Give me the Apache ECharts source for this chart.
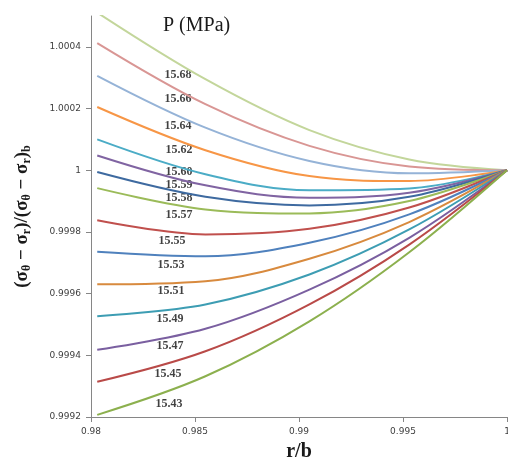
<!DOCTYPE html>
<html>
<head>
<meta charset="utf-8">
<script src="https://cdn.jsdelivr.net/npm/echarts@6/dist/echarts.min.js"></script>
<style>
  html, body { margin: 0; padding: 0; background: #fff; }
  #chart { width: 508px; height: 461px; }
</style>
</head>
<body>
<div id="chart"></div>
<script>
// r/b positions where the curves were read
var rb = [0.9803, 0.9855, 0.9905, 0.9953, 1];

// (σθ-σr)/(σθ-σr)b for each internal pressure P (MPa)
var p1568 = [1.000511, 1.000295, 1.000130, 1.000035, 1];
var p1566 = [1.000412, 1.000214, 1.000079, 1.000012, 1];
var p1564 = [1.000306, 1.000138, 1.000030, 0.999990, 1];
var p1562 = [1.000205, 1.000065, 0.999981, 0.999965, 1];
var p1560 = [1.000100, 0.999987, 0.999935, 0.999941, 1];
var p1559 = [1.000048, 0.999951, 0.999911, 0.999927, 1];
var p1558 = [0.999994, 0.999914, 0.999886, 0.999914, 1];
var p1557 = [0.999942, 0.999873, 0.999860, 0.999900, 1];
var p1555 = [0.999838, 0.999792, 0.999810, 0.999879, 1];
var p1553 = [0.999736, 0.999721, 0.999765, 0.999857, 1];
var p1551 = [0.999630, 0.999640, 0.999713, 0.999832, 1];
var p1549 = [0.999527, 0.999565, 0.999662, 0.999808, 1];
var p1547 = [0.999418, 0.999486, 0.999613, 0.999781, 1];
var p1545 = [0.999314, 0.999413, 0.999565, 0.999759, 1];
var p1543 = [0.999207, 0.999332, 0.999510, 0.999734, 1];

var pressures = ['15.68', '15.66', '15.64', '15.62', '15.60', '15.59', '15.58', '15.57',
                 '15.55', '15.53', '15.51', '15.49', '15.47', '15.45', '15.43'];
var curves = [p1568, p1566, p1564, p1562, p1560, p1559, p1558, p1557,
              p1555, p1553, p1551, p1549, p1547, p1545, p1543];
var colors = ['#c3d69b', '#d99694', '#95b3d7', '#f79646', '#4bacc6', '#8064a2', '#3e6aa0', '#9bbb59',
              '#c0504d', '#4f81bd', '#d88a3e', '#3d9db3', '#7a5fa0', '#b94a48', '#8cb04e'];

// where each pressure label sits (r/b, value)
var labelR = [0.98418, 0.98418, 0.98418, 0.98423, 0.98423, 0.98423, 0.98423, 0.98423,
              0.98389, 0.98385, 0.98385, 0.9838, 0.9838, 0.9837, 0.98375];
var labelV = [1.000308, 1.000230, 1.000143, 1.000065, 0.999993, 0.999951, 0.999909, 0.999854,
              0.999772, 0.999693, 0.999610, 0.999517, 0.999430, 0.999341, 0.999243];

var xTicks = [0.98, 0.985, 0.99, 0.995, 1];
var yTicks = [0.9992, 0.9994, 0.9996, 0.9998, 1, 1.0002, 1.0004];

var chart = echarts.init(document.getElementById('chart'));

var series = [];
for (var i = 0; i < curves.length; i++) {
  var pts = [];
  for (var j = 0; j < rb.length; j++) {
    pts.push([rb[j], curves[i][j]]);
  }
  series.push({
    name: pressures[i],
    type: 'line',
    data: pts,
    smooth: 0.35,
    showSymbol: false,
    clip: true,
    lineStyle: { width: 2, color: colors[i] },
    itemStyle: { color: colors[i] },
    silent: true
  });
}

var labelPts = [];
for (var k = 0; k < pressures.length; k++) {
  labelPts.push([labelR[k], labelV[k], pressures[k]]);
}
series.push({
  type: 'scatter',
  data: labelPts,
  symbolSize: 0,
  silent: true,
  label: {
    show: true,
    position: 'inside',
    formatter: function (p) { return p.data[2]; },
    fontFamily: 'Liberation Serif',
    fontWeight: 'bold',
    fontSize: 12,
    color: '#111'
  }
});

var option = {
  animation: false,
  backgroundColor: '#fff',
  grid: { left: 91, right: 1, top: 16, bottom: 44, outerBoundsMode: 'none' },
  xAxis: {
    type: 'value',
    min: 0.98,
    max: 1,
    name: 'r/b',
    nameLocation: 'middle',
    nameGap: 25,
    nameTextStyle: { fontFamily: 'Liberation Serif', fontWeight: 'bold', fontSize: 20, color: '#1a1a1a' },
    axisLine: { lineStyle: { color: '#868686', width: 1 } },
    axisTick: { show: true, length: 5, customValues: xTicks, lineStyle: { color: '#868686' } },
    axisLabel: {
      customValues: xTicks,
      margin: 10,
      hideOverlap: false,
      fontFamily: 'DejaVu Sans',
      fontSize: 9,
      color: '#404040',
      formatter: function (v) { return String(+v.toFixed(4)); }
    },
    splitLine: { show: false }
  },
  yAxis: {
    type: 'value',
    min: 0.9992,
    max: 1.0005,
    name: '{m|(σ}{s|θ}{m| − σ}{s|r}{m|)/(σ}{s|θ}{m| − σ}{s|r}{m|)}{s|b}',
    nameLocation: 'middle',
    nameRotate: 90,
    nameGap: 58,
    nameTextStyle: {
      color: '#1a1a1a',
      rich: {
        m: { fontFamily: 'Liberation Serif', fontWeight: 'bold', fontSize: 19, color: '#1a1a1a', lineHeight: 22 },
        s: { fontFamily: 'Liberation Serif', fontWeight: 'bold', fontSize: 12, color: '#1a1a1a',
             verticalAlign: 'bottom', lineHeight: 14, padding: [8, 0, 0, 0] }
      }
    },
    axisLine: { show: true, lineStyle: { color: '#868686', width: 1 } },
    axisTick: { show: true, length: 5, customValues: yTicks, lineStyle: { color: '#868686' } },
    axisLabel: {
      customValues: yTicks,
      margin: 10,
      fontFamily: 'DejaVu Sans',
      fontSize: 9,
      color: '#404040',
      formatter: function (v) { return String(+v.toFixed(4)); }
    },
    splitLine: { show: false }
  },
  graphic: [{
    type: 'text',
    left: 163,
    top: 16,
    style: {
      text: 'P (MPa)',
      font: '20px "Liberation Serif"',
      fill: '#1a1a1a'
    }
  }],
  series: series
};

chart.setOption(option);
</script>
</body>
</html>
